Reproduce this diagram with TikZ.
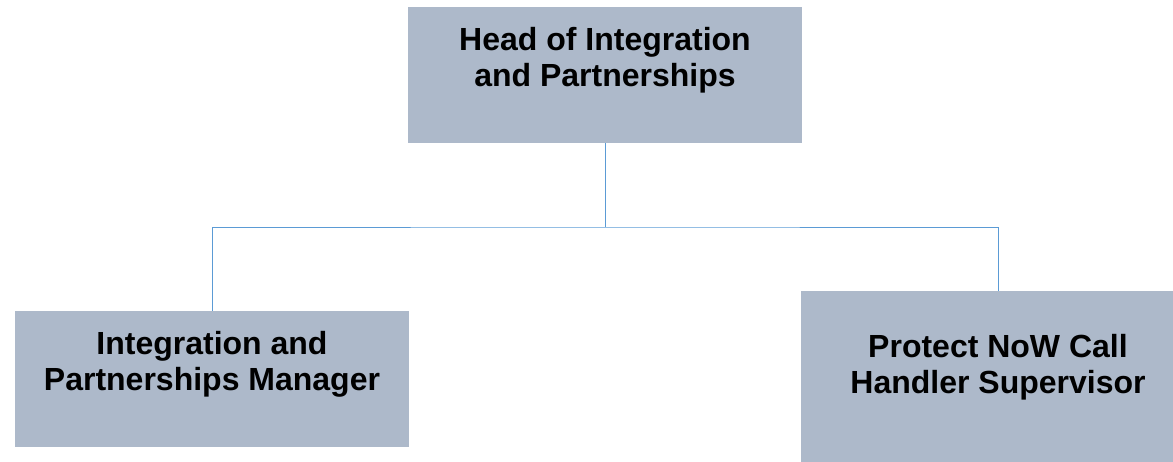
\documentclass[tikz,border=0pt]{standalone}
\usepackage{fontspec}
\setmainfont{Liberation Sans}
\usepackage{tikz}
\usepackage{xcolor}
\definecolor{boxgray}{HTML}{ADB9CA}
\definecolor{linkblue}{HTML}{5B9BD5}

\begin{document}
\begin{tikzpicture}[x=1pt,y=-1pt,
    post/.style={fill=boxgray,minimum width=394pt,inner sep=0pt,align=center,
        font=\fontsize{32}{36}\selectfont\bfseries},
    link/.style={linkblue,line width=1pt}]
    \useasboundingbox (0,0) rectangle (1173,461);
    \clip (0,0) rectangle (1173,461);
    \node[post,minimum height=136pt] (head) at (605,75) {Head of Integration\\and Partnerships\\\mbox{}};
    \node[post,minimum height=136pt] (mgr) at (212,379) {Integration and\\Partnerships Manager\\\mbox{}};
    \node[post,minimum height=182pt] (sup) at (998,382) {Protect NoW Call\\Handler Supervisor\\\mbox{}};
    \coordinate (split) at (605,227);
    \draw[link] (head.south) -- (split);
    \draw[link] (mgr.north) |- (split) -| (sup.north);
\end{tikzpicture}
\end{document}
